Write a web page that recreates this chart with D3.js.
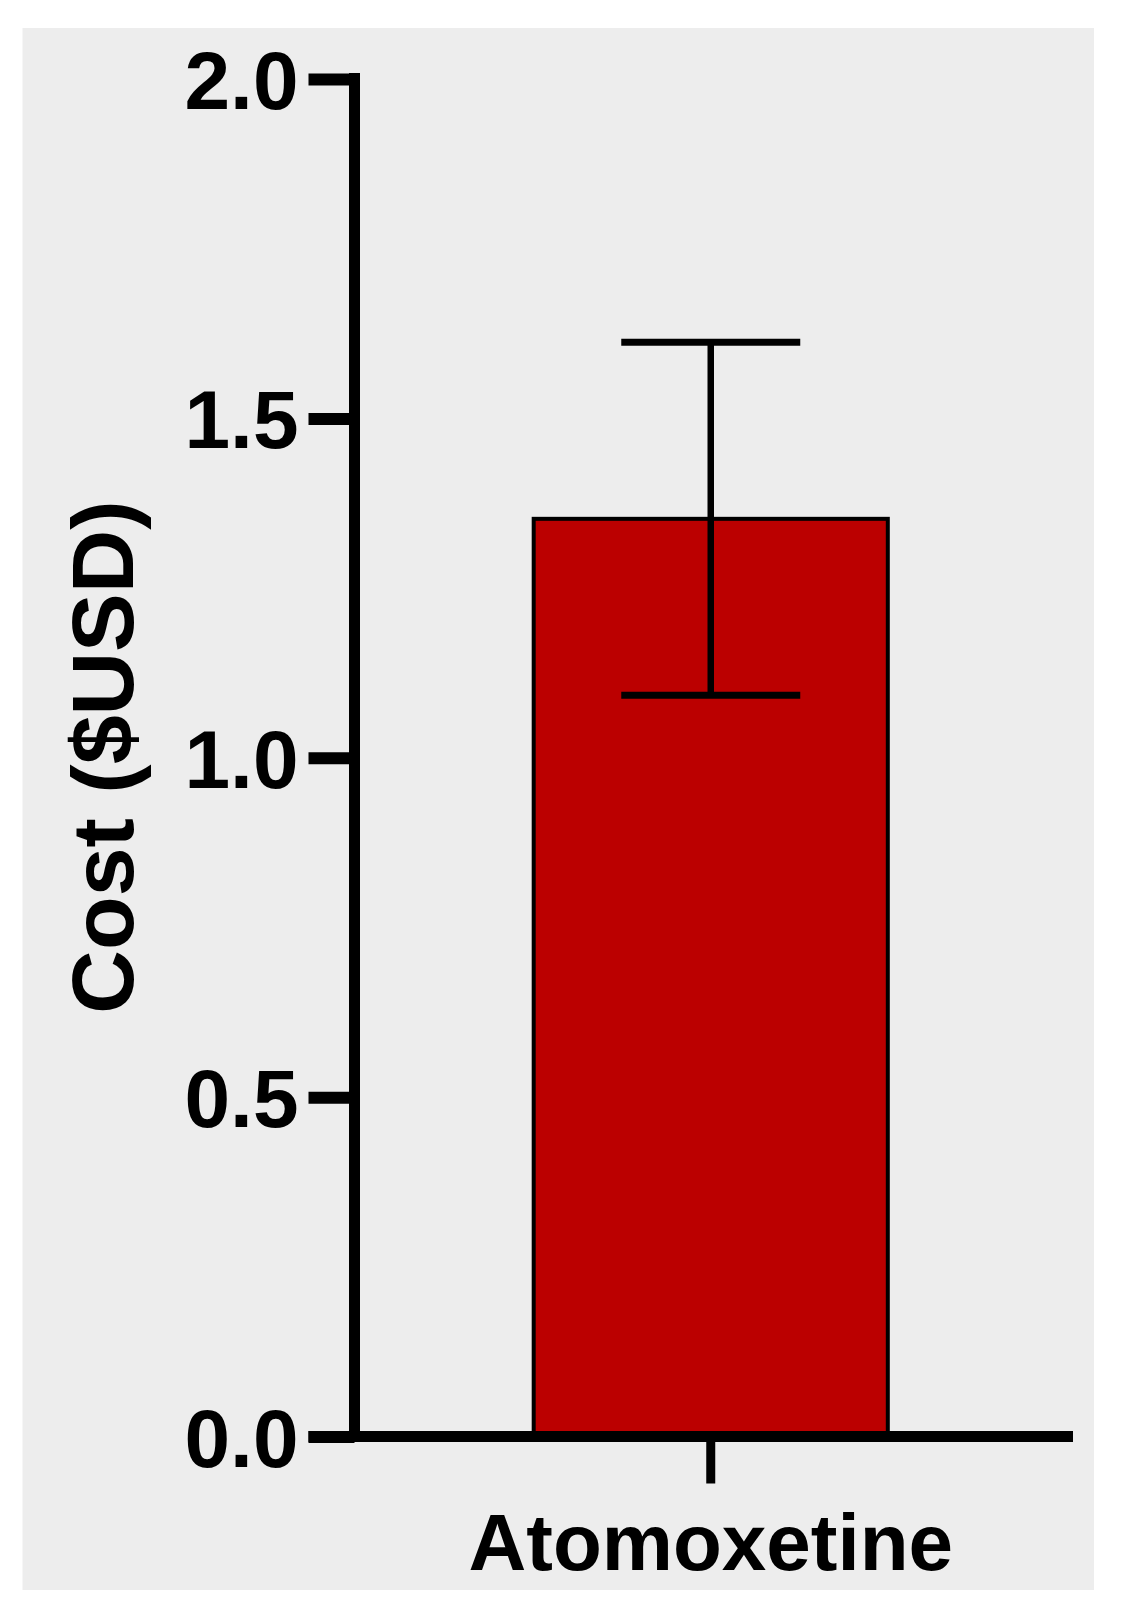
<!DOCTYPE html>
<html>
<head>
<meta charset="utf-8">
<script src="https://cdn.jsdelivr.net/npm/d3@7"></script>
<style>
  html, body { margin: 0; padding: 0; background: #ffffff; }
  svg text { font-family: "Liberation Sans", Arial, sans-serif; font-weight: bold; }
</style>
</head>
<body>
<svg id="chart" width="1121" height="1615"></svg>
<script>
// MARK: Data.

const categories = ['Atomoxetine']
const means      = [1.352]
const errors     = [0.26]
const yTicks     = [0, 0.5, 1.0, 1.5, 2.0]
const yTitle     = 'Cost ($USD)'

// MARK: Layout.

const AXIS_X   = 354.5
const AXIS_Y   = 1436.5
const TOP_Y    = 79
const RIGHT_X  = 1073
const TICK_LEN = 46
const LINE_W   = 11

const svg = d3.select('#chart')

svg.append('rect')
  .attr('x', 22.5).attr('y', 28)
  .attr('width', 1071.5).attr('height', 1562)
  .attr('fill', '#ededed')

const y = d3.scaleLinear().domain([0, 2]).range([AXIS_Y, TOP_Y])
const x = d3.scaleBand().domain(categories).range([AXIS_X, 1067]).padding(0.336)

// Bars
svg.append('g').selectAll('rect')
  .data(categories).enter()
  .append('rect')
  .attr('x'           , (d) => x(d))
  .attr('y'           , (d, i) => y(means[i]))
  .attr('width'       , x.bandwidth())
  .attr('height'      , (d, i) => AXIS_Y - y(means[i]))
  .attr('fill'        , '#bb0000')
  .attr('stroke'      , '#000')
  .attr('stroke-width', 4)

// Error bars
const eb = svg.append('g').selectAll('g')
  .data(categories).enter().append('g')
eb.append('line')
  .attr('x1', (d) => x(d) + x.bandwidth() / 2)
  .attr('x2', (d) => x(d) + x.bandwidth() / 2)
  .attr('y1', (d, i) => y(means[i] + errors[i]))
  .attr('y2', (d, i) => y(means[i] - errors[i]))
  .attr('stroke', '#000').attr('stroke-width', 6.5)
eb.selectAll('line.cap')
  .data((d, i) => [[d, means[i] + errors[i]], [d, means[i] - errors[i]]])
  .enter().append('line')
  .attr('class', 'cap')
  .attr('x1', (d) => x(d[0]) + x.bandwidth() / 2 - 89.5)
  .attr('x2', (d) => x(d[0]) + x.bandwidth() / 2 + 89.5)
  .attr('y1', (d) => y(d[1]))
  .attr('y2', (d) => y(d[1]))
  .attr('stroke', '#000').attr('stroke-width', 7)

// Y axis
const yAxis = svg.append('g')
  .attr('transform', `translate(${AXIS_X},0)`)
  .call(d3.axisLeft(y)
    .tickValues(yTicks)
    .tickFormat(d3.format('.1f'))
    .tickSize(TICK_LEN)
    .tickSizeOuter(0)
    .tickPadding(10))
yAxis.select('.domain').remove()
yAxis.selectAll('.tick line')
  .attr('stroke', '#000').attr('stroke-width', 12)
yAxis.selectAll('.tick text')
  .attr('fill', '#000')
  .attr('font-size', 82)
  .attr('dy', '0.36em')
yAxis.append('line')
  .attr('x1', 0).attr('x2', 0)
  .attr('y1', TOP_Y - 6).attr('y2', AXIS_Y)
  .attr('stroke', '#000').attr('stroke-width', LINE_W)

// X axis (the axis already centres each tick on its band)
const xAxis = svg.append('g')
  .attr('transform', `translate(0,${AXIS_Y})`)
  .call(d3.axisBottom(x).tickSize(0).tickSizeOuter(0).tickPadding(0))
xAxis.select('.domain').remove()
xAxis.selectAll('.tick text').remove()
xAxis.append('line')
  .attr('x1', AXIS_X - TICK_LEN).attr('x2', RIGHT_X)
  .attr('y1', 0).attr('y2', 0)
  .attr('stroke', '#000').attr('stroke-width', LINE_W)
xAxis.selectAll('.tick').append('line')
  .attr('x1', 0).attr('x2', 0)
  .attr('y1', LINE_W / 2).attr('y2', 47)
  .attr('stroke', '#000').attr('stroke-width', 9)
xAxis.selectAll('.tick').append('text')
  .attr('x', 0)
  .attr('y', 133.5)
  .attr('text-anchor', 'middle')
  .attr('fill', '#000')
  .attr('font-size', 80)
  .text((d) => d)

// Y title
svg.append('text')
  .attr('transform', 'translate(133,757) rotate(-90)')
  .attr('text-anchor', 'middle')
  .attr('font-size', 88)
  .attr('fill', '#000')
  .text(yTitle)
</script>
</body>
</html>
